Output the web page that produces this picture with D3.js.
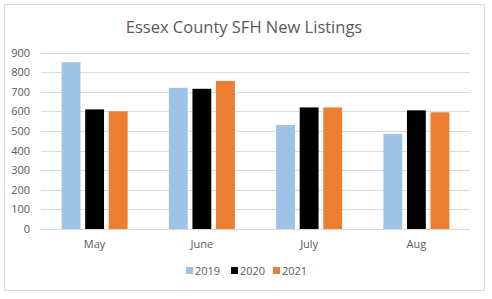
<!DOCTYPE html>
<html><head><meta charset="utf-8">
<script src="https://cdn.jsdelivr.net/npm/d3@7"></script>
<style>body{margin:0;background:#fff}svg{display:block}text{font-family:"Open Sans","Liberation Sans",sans-serif}</style>
</head><body><svg id="c" width="492" height="299"></svg>
<script>
const categories = ["May","June","July","Aug"];
const seriesNames = ["2019","2020","2021"];
const v2019 = [850,720,530,485];
const v2020 = [610,715,620,605];
const v2021 = [600,755,620,595];
const yTicks = [0,100,200,300,400,500,600,700,800,900];
const colors = ["#9DC3E6","#000000","#ED7D31"];
const seriesVals = [v2019,v2020,v2021];

const svg = d3.select("#c");
svg.append("rect").attr("x",4.5).attr("y",4.5).attr("width",480).attr("height",286)
  .attr("fill","#fff").attr("stroke","#D9D9D9");
svg.append("text").attr("x",244).attr("y",33).attr("text-anchor","middle")
  .attr("font-size",16.5).attr("fill","#595959").text("Essex County SFH New Listings");

const L=41,R=470,T=52.5,B=229;
const x = d3.scaleBand().domain(categories).range([L,R]).paddingInner(0).paddingOuter(0);
const y = d3.scaleLinear().domain([0,900]).range([B,T]);
const xs = d3.scaleBand().domain(seriesNames).range([0,66]).paddingInner(0.2);

const g = svg.append("g");
g.selectAll("line.grid").data(yTicks).join("line").attr("class","grid")
  .attr("x1",L).attr("x2",R).attr("y1",d=>Math.round(y(d))+0.5).attr("y2",d=>Math.round(y(d))+0.5)
  .attr("stroke","#D9D9D9").attr("stroke-width",1);

const yAxis = svg.append("g").attr("transform",`translate(${L},0)`)
  .call(d3.axisLeft(y).tickValues(yTicks).tickSize(0).tickPadding(11));
yAxis.select(".domain").remove();
yAxis.selectAll("text").attr("font-size",11).attr("fill","#595959").attr("font-family","Open Sans, Liberation Sans, sans-serif");

seriesNames.forEach((s,si)=>{
  g.selectAll("rect.s"+si).data(categories).join("rect").attr("class","s"+si)
    .attr("x",(c)=>x(c)+x.bandwidth()/2-33+xs(s))
    .attr("width",xs.bandwidth())
    .attr("y",(c,i)=>y(seriesVals[si][i]))
    .attr("height",(c,i)=>B-y(seriesVals[si][i]))
    .attr("fill",colors[si]);
});

const xAxis = svg.append("g").attr("transform",`translate(0,${B})`)
  .call(d3.axisBottom(x).tickSize(0).tickPadding(11));
xAxis.select(".domain").remove();
xAxis.selectAll("text").attr("font-size",11).attr("fill","#595959").attr("font-family","Open Sans, Liberation Sans, sans-serif");

const legX=[186,231,273];
const leg = svg.append("g");
seriesNames.forEach((s,i)=>{
  leg.append("rect").attr("x",legX[i]).attr("y",267).attr("width",7).attr("height",7).attr("fill",colors[i]);
  leg.append("text").attr("x",legX[i]+9).attr("y",275).attr("font-size",11).attr("fill","#595959").text(s);
});
</script></body></html>
